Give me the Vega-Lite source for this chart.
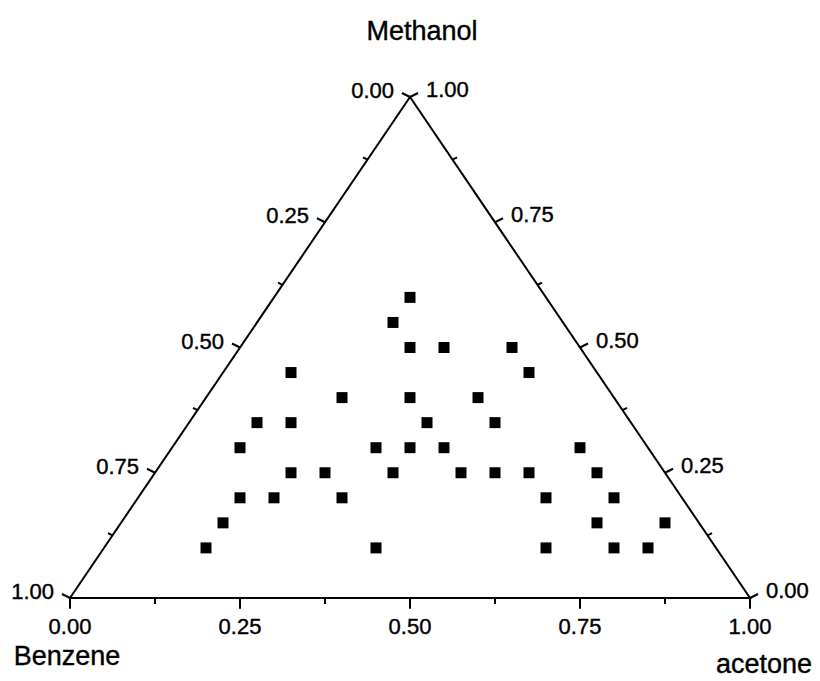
{
  "$schema": "https://vega.github.io/schema/vega-lite/v6.json",
  "width": 680,
  "height": 501,
  "autosize": {"type": "none"},
  "padding": {"left": 70, "top": 97, "right": 70, "bottom": 83},
  "background": "white",
  "config": {"view": {"stroke": null}, "font": "Liberation Sans"},
  "layer": [
    {
      "data": {"values": [
        {"pos": 0, "methanol": 0, "k": 0},
        {"pos": 1, "methanol": 0, "k": 1},
        {"pos": 0.5, "methanol": 1, "k": 2},
        {"pos": 0, "methanol": 0, "k": 3}
      ]},
      "mark": {"type": "line", "color": "black", "strokeWidth": 2, "strokeJoin": "miter"},
      "encoding": {
        "x": {"field": "pos", "type": "quantitative", "scale": {"domain": [0, 1], "nice": false, "zero": false}, "axis": null},
        "y": {"field": "methanol", "type": "quantitative", "scale": {"domain": [0, 1], "nice": false, "zero": false}, "axis": null},
        "order": {"field": "k", "type": "quantitative"}
      }
    },
    {
      "data": {"name": "ticks", "values": [
        {"edge": "left", "pos": 0, "methanol": 0, "major": "yes", "label": "1.00"},
        {"edge": "left", "pos": 0.0625, "methanol": 0.125, "major": "no", "label": ""},
        {"edge": "left", "pos": 0.125, "methanol": 0.25, "major": "yes", "label": "0.75"},
        {"edge": "left", "pos": 0.1875, "methanol": 0.375, "major": "no", "label": ""},
        {"edge": "left", "pos": 0.25, "methanol": 0.5, "major": "yes", "label": "0.50"},
        {"edge": "left", "pos": 0.3125, "methanol": 0.625, "major": "no", "label": ""},
        {"edge": "left", "pos": 0.375, "methanol": 0.75, "major": "yes", "label": "0.25"},
        {"edge": "left", "pos": 0.4375, "methanol": 0.875, "major": "no", "label": ""},
        {"edge": "left", "pos": 0.5, "methanol": 1, "major": "yes", "label": "0.00"},
        {"edge": "right", "pos": 1, "methanol": 0, "major": "yes", "label": "0.00"},
        {"edge": "right", "pos": 0.9375, "methanol": 0.125, "major": "no", "label": ""},
        {"edge": "right", "pos": 0.875, "methanol": 0.25, "major": "yes", "label": "0.25"},
        {"edge": "right", "pos": 0.8125, "methanol": 0.375, "major": "no", "label": ""},
        {"edge": "right", "pos": 0.75, "methanol": 0.5, "major": "yes", "label": "0.50"},
        {"edge": "right", "pos": 0.6875, "methanol": 0.625, "major": "no", "label": ""},
        {"edge": "right", "pos": 0.625, "methanol": 0.75, "major": "yes", "label": "0.75"},
        {"edge": "right", "pos": 0.5625, "methanol": 0.875, "major": "no", "label": ""},
        {"edge": "right", "pos": 0.5, "methanol": 1, "major": "yes", "label": "1.00"},
        {"edge": "bottom", "pos": 0, "methanol": 0, "major": "yes", "label": "0.00"},
        {"edge": "bottom", "pos": 0.125, "methanol": 0, "major": "no", "label": ""},
        {"edge": "bottom", "pos": 0.25, "methanol": 0, "major": "yes", "label": "0.25"},
        {"edge": "bottom", "pos": 0.375, "methanol": 0, "major": "no", "label": ""},
        {"edge": "bottom", "pos": 0.5, "methanol": 0, "major": "yes", "label": "0.50"},
        {"edge": "bottom", "pos": 0.625, "methanol": 0, "major": "no", "label": ""},
        {"edge": "bottom", "pos": 0.75, "methanol": 0, "major": "yes", "label": "0.75"},
        {"edge": "bottom", "pos": 0.875, "methanol": 0, "major": "no", "label": ""},
        {"edge": "bottom", "pos": 1, "methanol": 0, "major": "yes", "label": "1.00"}
      ]},
      "mark": {"type": "point", "filled": false, "color": "black", "strokeWidth": 2, "opacity": 1},
      "encoding": {
        "x": {"field": "pos", "type": "quantitative"},
        "y": {"field": "methanol", "type": "quantitative"},
        "shape": {"field": "edge", "type": "nominal", "legend": null,
          "scale": {"domain": ["left", "right", "bottom"], "range": ["M0,0L-1,-0.5", "M0,0L1,-0.5", "M0,0L0,1.35"]}},
        "size": {"field": "major", "type": "ordinal", "legend": null,
          "scale": {"domain": ["yes", "no"], "range": [256, 81]}}
      }
    },
    {
      "data": {"name": "ticks"},
      "transform": [{"filter": "datum.edge === 'left' && datum.label !== ''"}],
      "mark": {"type": "text", "align": "right", "baseline": "middle", "dx": -16, "dy": -6, "fontSize": 22, "color": "black", "stroke": "black", "strokeWidth": 0.4},
      "encoding": {
        "x": {"field": "pos", "type": "quantitative"},
        "y": {"field": "methanol", "type": "quantitative"},
        "text": {"field": "label"}
      }
    },
    {
      "data": {"name": "ticks"},
      "transform": [{"filter": "datum.edge === 'right' && datum.label !== ''"}],
      "mark": {"type": "text", "align": "left", "baseline": "middle", "dx": 16, "dy": -7, "fontSize": 22, "color": "black", "stroke": "black", "strokeWidth": 0.4},
      "encoding": {
        "x": {"field": "pos", "type": "quantitative"},
        "y": {"field": "methanol", "type": "quantitative"},
        "text": {"field": "label"}
      }
    },
    {
      "data": {"name": "ticks"},
      "transform": [{"filter": "datum.edge === 'bottom' && datum.label !== ''"}],
      "mark": {"type": "text", "align": "center", "baseline": "top", "dy": 19, "fontSize": 22, "color": "black", "stroke": "black", "strokeWidth": 0.4},
      "encoding": {
        "x": {"field": "pos", "type": "quantitative"},
        "y": {"field": "methanol", "type": "quantitative"},
        "text": {"field": "label"}
      }
    },
    {
      "data": {"values": [
        {"pos": 0.5, "methanol": 0.6}, {"pos": 0.475, "methanol": 0.55},
        {"pos": 0.5, "methanol": 0.5}, {"pos": 0.55, "methanol": 0.5}, {"pos": 0.65, "methanol": 0.5},
        {"pos": 0.325, "methanol": 0.45}, {"pos": 0.675, "methanol": 0.45},
        {"pos": 0.4, "methanol": 0.4}, {"pos": 0.5, "methanol": 0.4}, {"pos": 0.6, "methanol": 0.4},
        {"pos": 0.275, "methanol": 0.35}, {"pos": 0.325, "methanol": 0.35}, {"pos": 0.525, "methanol": 0.35}, {"pos": 0.625, "methanol": 0.35},
        {"pos": 0.25, "methanol": 0.3}, {"pos": 0.45, "methanol": 0.3}, {"pos": 0.5, "methanol": 0.3}, {"pos": 0.55, "methanol": 0.3}, {"pos": 0.75, "methanol": 0.3},
        {"pos": 0.325, "methanol": 0.25}, {"pos": 0.375, "methanol": 0.25}, {"pos": 0.475, "methanol": 0.25}, {"pos": 0.575, "methanol": 0.25}, {"pos": 0.625, "methanol": 0.25}, {"pos": 0.675, "methanol": 0.25}, {"pos": 0.775, "methanol": 0.25},
        {"pos": 0.25, "methanol": 0.2}, {"pos": 0.3, "methanol": 0.2}, {"pos": 0.4, "methanol": 0.2}, {"pos": 0.7, "methanol": 0.2}, {"pos": 0.8, "methanol": 0.2},
        {"pos": 0.225, "methanol": 0.15}, {"pos": 0.775, "methanol": 0.15}, {"pos": 0.875, "methanol": 0.15},
        {"pos": 0.2, "methanol": 0.1}, {"pos": 0.45, "methanol": 0.1}, {"pos": 0.7, "methanol": 0.1}, {"pos": 0.8, "methanol": 0.1}, {"pos": 0.85, "methanol": 0.1}
      ]},
      "mark": {"type": "square", "color": "black", "size": 121, "opacity": 1},
      "encoding": {
        "x": {"field": "pos", "type": "quantitative"},
        "y": {"field": "methanol", "type": "quantitative"}
      }
    },
    {
      "data": {"values": [{"name": "Methanol"}]},
      "mark": {"type": "text", "align": "center", "baseline": "middle", "dx": 12, "dy": -65, "fontSize": 27, "color": "black", "stroke": "black", "strokeWidth": 0.4},
      "encoding": {
        "x": {"datum": 0.5, "type": "quantitative"},
        "y": {"datum": 1, "type": "quantitative"},
        "text": {"field": "name"}
      }
    },
    {
      "data": {"values": [{"name": "Benzene"}]},
      "mark": {"type": "text", "align": "center", "baseline": "middle", "dx": -3, "dy": 59, "fontSize": 27, "color": "black", "stroke": "black", "strokeWidth": 0.4},
      "encoding": {
        "x": {"datum": 0, "type": "quantitative"},
        "y": {"datum": 0, "type": "quantitative"},
        "text": {"field": "name"}
      }
    },
    {
      "data": {"values": [{"name": "acetone"}]},
      "mark": {"type": "text", "align": "center", "baseline": "middle", "dx": 14, "dy": 67, "fontSize": 27, "color": "black", "stroke": "black", "strokeWidth": 0.4},
      "encoding": {
        "x": {"datum": 1, "type": "quantitative"},
        "y": {"datum": 0, "type": "quantitative"},
        "text": {"field": "name"}
      }
    }
  ]
}
